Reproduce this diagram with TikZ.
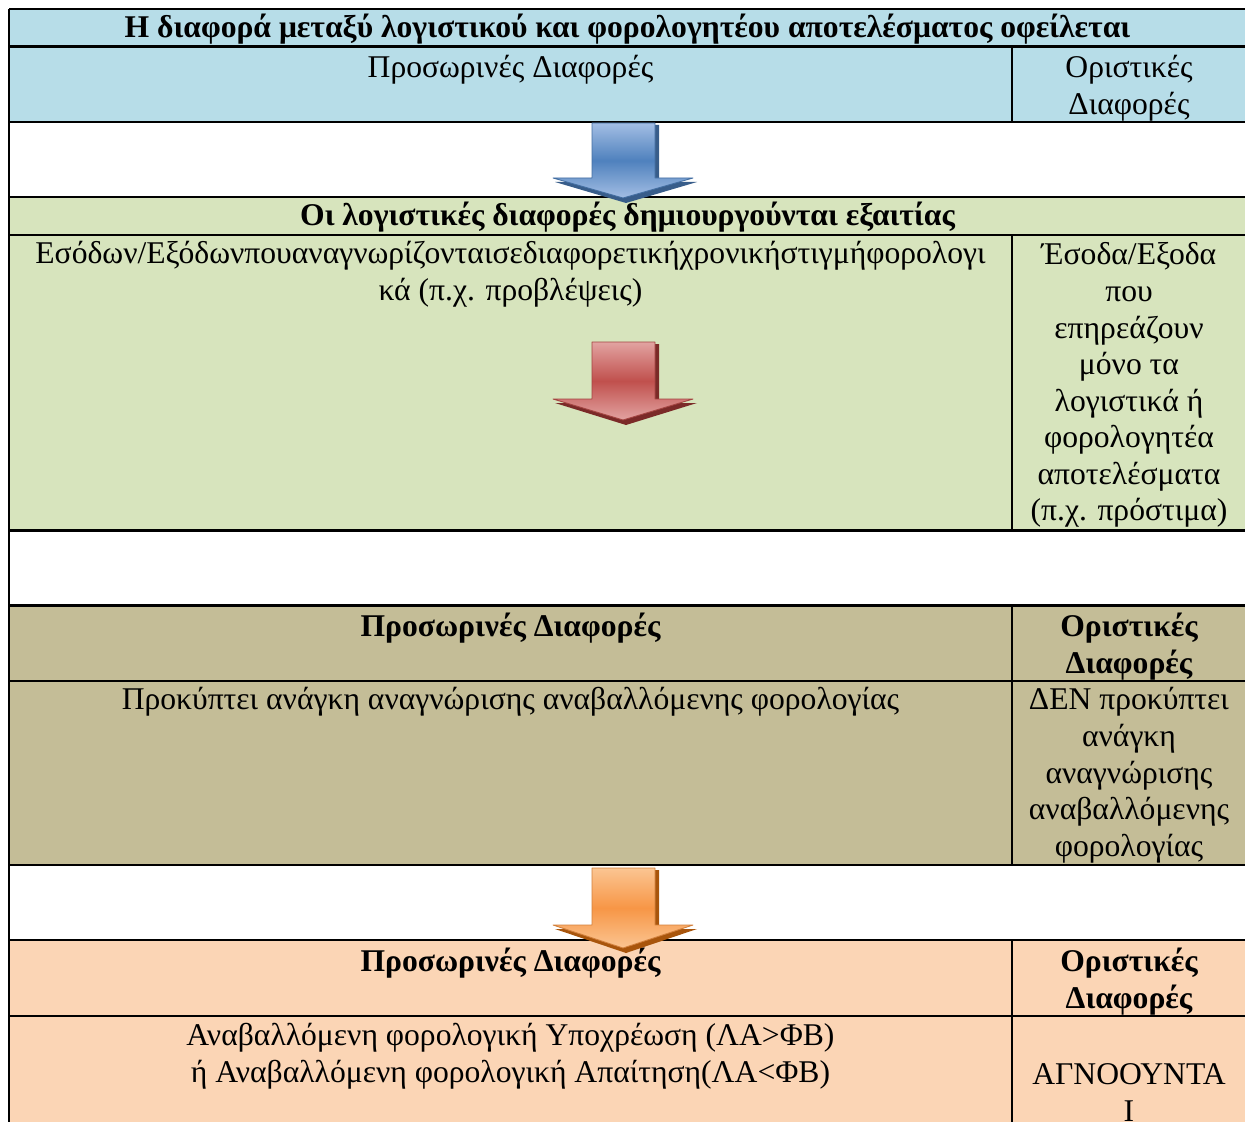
\documentclass[tikz,border=0pt]{standalone}
\usepackage{fontspec}
\setmainfont{Liberation Serif}
\definecolor{cblue}{HTML}{B7DDE8}
\definecolor{cgreen}{HTML}{D7E4BD}
\definecolor{ctan}{HTML}{C4BD97}
\definecolor{cpeach}{HTML}{FBD5B5}
\definecolor{ablue}{HTML}{4F81BD}
\definecolor{ablueL}{HTML}{A3BEE4}
\definecolor{ablueD}{HTML}{385D8A}
\definecolor{ared}{HTML}{C0504D}
\definecolor{aredL}{HTML}{E2A3A1}
\definecolor{aredD}{HTML}{7B2A28}
\definecolor{aorange}{HTML}{F79646}
\definecolor{aorangeL}{HTML}{FBC592}
\definecolor{aorangeD}{HTML}{A8550C}
\newcommand{\tabfont}{\fontsize{18}{20.8}\selectfont}
\begin{document}
\begin{tikzpicture}[x=0.02cm,y=-0.02cm,line join=round,
	rule/.style={line width=1.4pt},
	cell/.style={inner sep=0pt,anchor=north,align=center,font=\tabfont},
	head/.style={cell,font=\tabfont\bfseries}]
	\useasboundingbox (0,0) rectangle (1245,1122);
	\def \xl{9};
	\def \xm{1012};
	\def \xr{1246};
	% coloured bands
	\foreach \ya/\yb/\col in {9/122/cblue,197/530.5/cgreen,605.5/865/ctan,940/1130/cpeach}{\fill[\col] (\xl,\ya) rectangle (\xr,\yb);}
	% table rules
	\foreach \y in {9,46.5,122,197,235,530.5,605.5,681,865,940,1016}{\draw[rule] (\xl,\y)--(\xr,\y);}
	\draw[rule] (\xl,9)--(\xl,1130) (\xr,9)--(\xr,1130);
	\foreach \ya/\yb in {46.5/122,235/530.5,605.5/865,940/1130}{\draw[rule] (\xm,\ya)--(\xm,\yb);}
	% texts
	\node[head] (title) at (627.5,12) {\strut Η διαφορά μεταξύ λογιστικού και φορολογητέου αποτελέσματος οφείλεται};
	\node[cell] (tmpA) at (510.5,52) {\strut Προσωρινές Διαφορές};
	\node[cell] (defA) at (1129,52) {\strut Οριστικές\\Διαφορές};
	\node[head] (causes) at (627.5,200) {\strut Οι λογιστικές διαφορές δημιουργούνται εξαιτίας};
	\node[cell] (tmpcause) at (510.5,238) {\strut Εσόδων/Εξόδωνπουαναγνωρίζονταισεδιαφορετικήχρονικήστιγμήφορολογι\\κά (π.χ. προβλέψεις)};
	\node[cell] (defcause) at (1129,239) {\strut Έσοδα/Εξοδα\\που\\επηρεάζουν\\μόνο τα\\λογιστικά ή\\φορολογητέα\\αποτελέσματα\\(π.χ. πρόστιμα)};
	\node[head] (tmpB) at (510.5,611) {\strut Προσωρινές Διαφορές};
	\node[head] (defB) at (1129,611) {\strut Οριστικές\\Διαφορές};
	\node[cell] (tmpneed) at (510.5,684) {\strut Προκύπτει ανάγκη αναγνώρισης αναβαλλόμενης φορολογίας};
	\node[cell] (defneed) at (1129,684) {\strut ΔΕΝ προκύπτει\\ανάγκη\\αναγνώρισης\\αναβαλλόμενης\\φορολογίας};
	\node[head] (tmpC) at (510.5,946) {\strut Προσωρινές Διαφορές};
	\node[head] (defC) at (1129,946) {\strut Οριστικές\\Διαφορές};
	\node[cell] (tmpresult) at (510.5,1020) {\strut Αναβαλλόμενη φορολογική Υποχρέωση (ΛΑ>ΦΒ)\\ή Αναβαλλόμενη φορολογική Απαίτηση(ΛΑ<ΦΒ)};
	\node[cell] (defresult) at (1129,1059) {\strut ΑΓΝΟΟΥΝΤΑ\\Ι};
	% block arrows
	\foreach \t/\h/\p/\c in {123/178/198/ablue,342/399/420/ared,868/925/948/aorange}{
		\fill[\c D] (595,\t+2)--(659,\t+2)--(659,\h+4)--(697,\h+4)--(626,\p+5)--(555,\h+4)--(595,\h+4)--cycle;
		\shade[top color=\c L,bottom color=\c L,middle color=\c,draw=\c!85!black,line width=0.5pt] (592,\t)--(655,\t)--(655,\h)--(693,\h)--(623,\p)--(553,\h)--(592,\h)--cycle;
	}
\end{tikzpicture}
\end{document}
